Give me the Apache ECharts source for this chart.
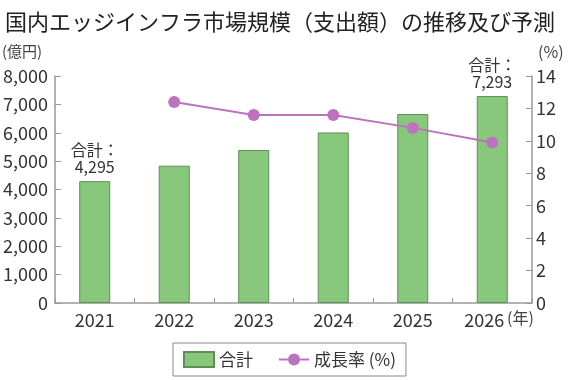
<!DOCTYPE html>
<html>
<head>
<meta charset="utf-8">
<script src="https://cdn.jsdelivr.net/npm/echarts@6/dist/echarts.min.js"></script>
<style>html,body{margin:0;padding:0;background:#fff;}#c{width:570px;height:380px;}</style>
</head>
<body>
<div id="c"></div>
<script>
const categories = ['2021', '2022', '2023', '2024', '2025', '2026'];
const totals = [4295, 4840, 5390, 6010, 6660, 7293];
const growthRates = [null, 12.4, 11.6, 11.6, 10.8, 9.9];
const leftTicks = { min: 0, max: 8000, interval: 1000 };
const rightTicks = { min: 0, max: 14, interval: 2 };
const labeledIdx = [0, 5];

const FONT = '"Noto Sans CJK JP", "Noto Sans", sans-serif';
const chart = echarts.init(document.getElementById('c'));
const fmt = v => v.toString().replace(/\B(?=(\d{3})+(?!\d))/g, ',');

chart.setOption({
  animation: false,
  textStyle: { fontFamily: FONT },
  title: {
    text: '国内エッジインフラ市場規模（支出額）の推移及び予測',
    left: 0, top: 6,
    textStyle: { fontFamily: FONT, fontSize: 22, fontWeight: 'normal', color: '#222' }
  },
  graphic: [
    { type: 'text', left: 2, top: 44, style: { text: '(億円)', font: '15px ' + FONT, fill: '#444' } },
    { type: 'text', left: 538, top: 44, style: { text: '(%)', font: '16px ' + FONT, fill: '#444' } },
    { type: 'text', left: 507, top: 310, style: { text: '(年)', font: '16px ' + FONT, fill: '#444' } }
  ],
  legend: {
    left: 173, top: 343,
    borderColor: '#888', borderWidth: 1,
    padding: [8, 10, 8, 10],
    itemWidth: 30, itemHeight: 15, itemGap: 25,
    textStyle: { fontFamily: FONT, fontSize: 17, color: '#333' },
    data: [{ name: '合計', icon: 'rect' }, { name: '成長率 (%)' }]
  },
  grid: { left: 53, right: 38, top: 76, bottom: 77 },
  xAxis: {
    type: 'category', data: categories,
    axisLine: { lineStyle: { color: '#999', width: 1.5 } },
    axisTick: { show: true, inside: true, length: 5, lineStyle: { color: '#999' } },
    axisLabel: {
      interval: 0, hideOverlap: false,
      fontSize: 18, color: '#333', margin: 8, fontFamily: FONT,
      formatter: (v, i) => i === categories.length - 1 ? v + '{g|}' : v,
      rich: { g: { width: 16 } }
    }
  },
  yAxis: [
    {
      type: 'value', min: leftTicks.min, max: leftTicks.max, interval: leftTicks.interval,
      axisLine: { show: true, lineStyle: { color: '#999', width: 1.5 } },
      axisTick: { show: true, inside: true, length: 6, lineStyle: { color: '#999' } },
      splitLine: { show: false },
      axisLabel: { fontSize: 18, color: '#333', margin: 7, fontFamily: FONT, formatter: v => fmt(v) }
    },
    {
      type: 'value', min: rightTicks.min, max: rightTicks.max, interval: rightTicks.interval,
      axisLine: { show: true, lineStyle: { color: '#999', width: 1.5 } },
      axisTick: { show: true, inside: true, length: 6, lineStyle: { color: '#999' } },
      splitLine: { show: false },
      axisLabel: { fontSize: 18, color: '#333', margin: 4, fontFamily: FONT }
    }
  ],
  series: [
    {
      name: '合計', type: 'bar', barWidth: 31,
      itemStyle: { color: '#88c87c', borderColor: '#5f8f56', borderWidth: 1 },
      data: totals.map((v, i) => ({
        value: v,
        label: labeledIdx.includes(i) ? {
          show: true, position: 'top', distance: 6,
          formatter: p => '合計：\n' + fmt(p.value),
          fontSize: 16, lineHeight: 17, color: '#333', fontFamily: FONT
        } : { show: false }
      }))
    },
    {
      name: '成長率 (%)', type: 'line', yAxisIndex: 1,
      symbol: 'circle', symbolSize: 12,
      lineStyle: { color: '#bd72bd', width: 2 },
      itemStyle: { color: '#bd72bd' },
      data: growthRates.map(v => v === null ? '-' : v)
    }
  ]
});
</script>
</body>
</html>
